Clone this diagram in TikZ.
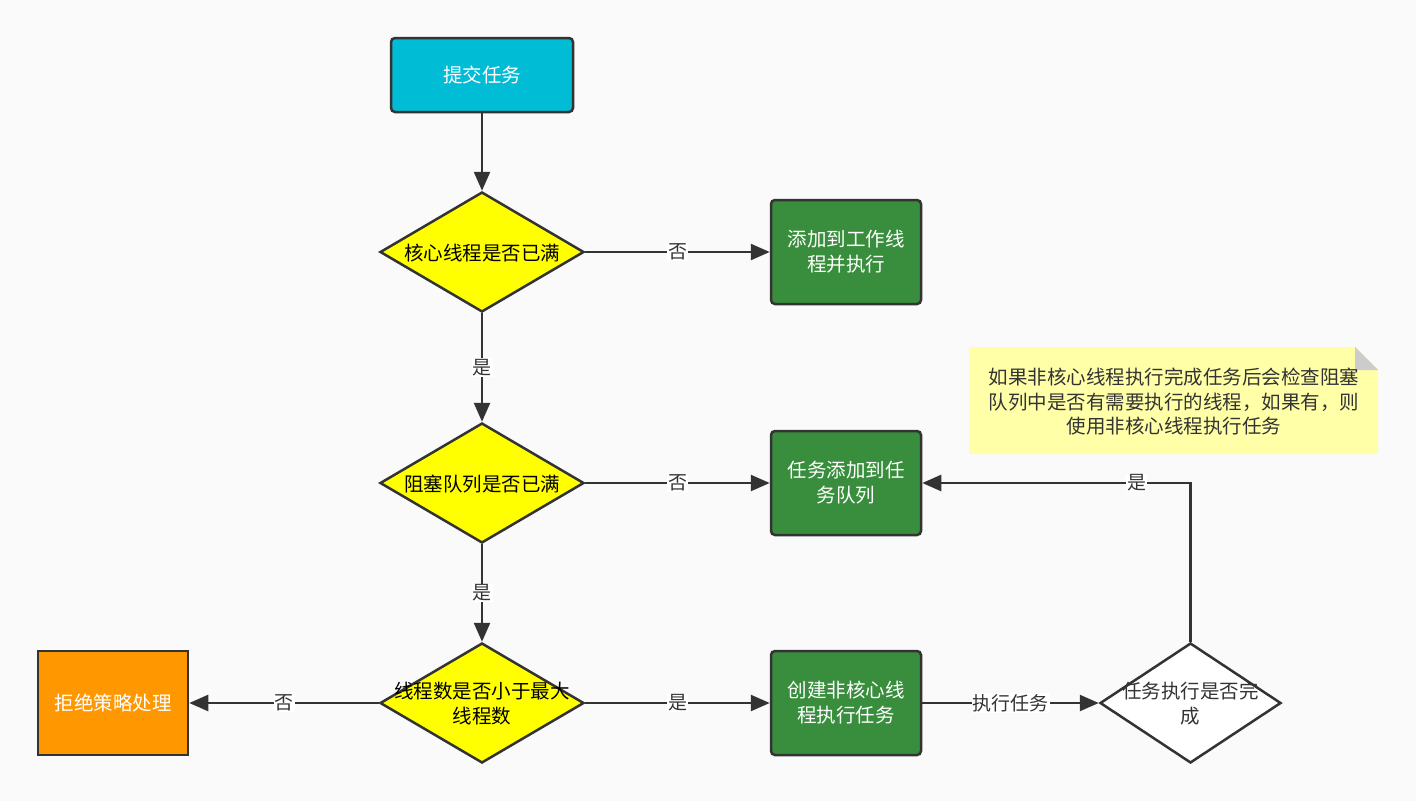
\documentclass[tikz,border=0pt]{standalone}
\usepackage{fontspec}
\setmainfont{Noto Sans CJK SC}
\usetikzlibrary{arrows.meta,shapes.geometric}
\definecolor{bg}{HTML}{FAFAFA}
\definecolor{edge}{HTML}{333333}
\definecolor{txt}{HTML}{333333}
\definecolor{cyanbox}{HTML}{00BCD4}
\definecolor{greenbox}{HTML}{388E3C}
\definecolor{orangebox}{HTML}{FF9800}
\definecolor{yel}{HTML}{FFFF00}
\definecolor{notebg}{HTML}{FFFFA8}
\definecolor{fold}{HTML}{CCCCCC}
\begin{document}
\begin{tikzpicture}[x=1pt,y=-1pt,
  box/.style={draw=edge, line width=2.5pt, rounded corners=4pt, minimum width=150pt, minimum height=104pt, inner sep=0pt, font=\fontsize{19.5}{25}\selectfont, text=white, align=center},
  dia/.style={diamond, draw=edge, line width=2.5pt, minimum width=204pt, minimum height=120pt, inner sep=0pt, fill=yel},
  dtext/.style={font=\fontsize{19.5}{25}\selectfont, text=black, align=center, inner sep=0pt},
  conn/.style={draw=edge, line width=2.5pt, -{Triangle[length=19pt,width=16pt]}},
  lab/.style={fill=white, inner sep=1pt, font=\fontsize{19}{21}\selectfont, text=txt},
  notetext/.style={font=\fontsize{19.5}{24.5}\selectfont, text=txt, align=center, inner sep=0pt}
]
\fill[bg] (0,0) rectangle (1416,801);
\useasboundingbox (0,0) rectangle (1416,801);

% nodes
\node[box, fill=cyanbox, minimum width=182pt, minimum height=74pt] (start) at (482,75) {提交任务};
\node[dia] (d1) at (482,252) {};
\node[dtext] (d1t) at (482,253) {核心线程是否已满};
\node[box, fill=greenbox] (b1) at (846,252) {添加到工作线\\程并执行};
\node[dia] (d2) at (482,483) {};
\node[dtext] (d2t) at (482,484) {阻塞队列是否已满};
\node[box, fill=greenbox] (b2) at (846,483) {任务添加到任\\务队列};
\node[dia] (d3) at (482,703) {};
\node[dtext] (d3t) at (482,704) {线程数是否小于最大\\线程数};
\node[box, fill=orangebox, rounded corners=0pt] (rej) at (113,703) {拒绝策略处理};
\node[box, fill=greenbox] (b3) at (846,703) {创建非核心线\\程执行任务};
\node[dia, fill=white, minimum width=181pt] (d4) at (1190.5,703) {};
\node[dtext, text=txt] (d4t) at (1190.5,704) {任务执行是否完\\成};

% note
\fill[notebg] (969,347) -- (1355,347) -- (1378,370) -- (1378,454) -- (969,454) -- cycle;
\fill[fold] (1355,347) -- (1378,370) -- (1355,370) -- cycle;
\node[notetext] (nt) at (1174,402) {如果非核心线程执行完成任务后会检查阻塞\\队列中是否有需要执行的线程，如果有，则\\使用非核心线程执行任务};

% connectors
\draw[conn] (start.south) -- (d1.north);
\draw[conn] (d1.east) -- node[lab] (l1) {否} (b1.west);
\draw[conn] (d1.south) -- node[lab] (l2) {是} (d2.north);
\draw[conn] (d2.east) -- node[lab] (l3) {否} (b2.west);
\draw[conn] (d2.south) -- node[lab] (l4) {是} (d3.north);
\draw[conn] (d3.west) -- node[lab] (l5) {否} (rej.east);
\draw[conn] (d3.east) -- node[lab] (l6) {是} (b3.west);
\draw[conn] (b3.east) -- node[lab] (l7) {执行任务} (d4.west);
\draw[conn] (d4.north) |- node[lab, pos=0.6] (l8) {是} (b2.east);
\end{tikzpicture}
\end{document}
